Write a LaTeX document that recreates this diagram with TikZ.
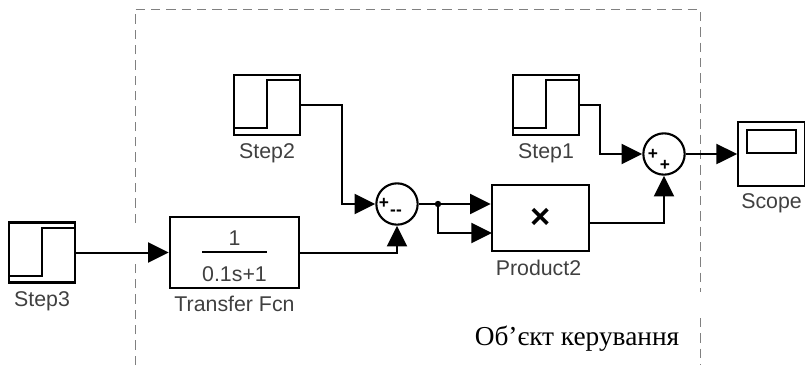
\documentclass[tikz,border=0pt]{standalone}
\usepackage{fontspec}
\setmainfont[Ligatures=ResetAll]{Liberation Serif}
\newfontfamily\blockfont{Liberation Sans}
\usetikzlibrary{positioning,arrows.meta}
\tikzset{
  block/.style={draw,line width=1.6pt,inner sep=0pt},
  stepblock/.style={block,minimum width=49pt,minimum height=45pt,
    path picture={\draw[line width=1.5pt]
      ([yshift=5pt]path picture bounding box.south west) -|
      ([yshift=-4pt]path picture bounding box.north) --
      ([yshift=-4pt]path picture bounding box.north east);}},
  sumblock/.style={draw,circle,line width=1.6pt,inner sep=0pt,minimum size=31pt},
  caption/.style={font=\blockfont\fontsize{16}{18}\selectfont,text=black!75,inner sep=0pt},
  sign/.style={font=\blockfont\bfseries\fontsize{13}{13}\selectfont,inner sep=0pt},
  wire/.style={line width=1.5pt,-{Triangle[length=15.5pt,width=15pt]}},
  frameline/.style={gray,line width=.7pt,dash pattern=on 7pt off 4.5pt}
}
\begin{document}
\begin{tikzpicture}[x=.75pt,y=-.75pt]
\useasboundingbox (0,0) rectangle (805,365);
% plant frame
\draw[frameline] (135,365) -- (135,263);
\draw[frameline] (135,223) -- (135,9) -- (700,9) -- (700,292);
\draw[frameline] (700,318) -- (700,365);
% blocks
\node[stepblock] (stepthree) at (42,252.5) {};
\node[stepblock] (steptwo) at (267,105) {};
\node[stepblock] (stepone) at (546,105) {};
\node[block,minimum width=97pt,minimum height=53pt] (transfer) at (234.5,252.5) {};
\node[sumblock] (sumone) at (397,204) {};
\node[sumblock] (sumtwo) at (664,154) {};
\node[block,minimum width=73pt,minimum height=49.5pt,font=\blockfont\bfseries\fontsize{26}{26}\selectfont] (product) at (540.5,218) {×};
\node[block,minimum width=50pt,minimum height=48pt] (scope) at (771.5,154) {};
\node[block,line width=1.4pt,minimum width=37pt,minimum height=17pt] (screen) at (771.5,141.5) {};
% captions
\node[caption,below=5.5pt of stepthree] (stepthreetext) {Step3};
\node[caption,below=5.5pt of steptwo] (steptwotext) {Step2};
\node[caption,below=5.5pt of stepone] (steponetext) {Step1};
\node[caption,below=5pt of transfer] (transfertext) {Transfer Fcn};
\node[caption,below=5.5pt of product,xshift=-1.5pt] (producttext) {Product2};
\node[caption,below=5pt of scope] (scopetext) {Scope};
\node[inner sep=0pt,font=\fontsize{20.5}{24}\selectfont] (planttext) at (577,339) {Об'єкт керування};
% transfer function
\node[caption] (tfnum) at (234.5,238) {1};
\node[caption] (tfden) at (234.5,274) {0.1s+1};
\draw[line width=1.2pt] (202,252) -- (267,252);
% signs
\node[sign] (signa) at (384,203) {+};
\node[sign] (signb) at (396,213) {--};
\node[sign] (signc) at (653,154) {+};
\node[sign] (signd) at (665,165) {+};
% connectors
\coordinate (branch) at (438,204);
\coordinate (productin) at (492,233);
\coordinate (productout) at (589,223);
\draw[wire] (stepthree) -- (transfer);
\draw[wire] (steptwo.east) -| (342,204) -- (sumone.west);
\draw[wire] (transfer.east) -| (sumone.south);
\draw[wire] (sumone.east) -- (product.west |- branch);
\draw[wire] (branch) |- (productin);
\fill (branch) circle (2.4pt);
\draw[wire] (stepone.east) -| (600,154) -- (sumtwo.west);
\draw[wire] (productout) -| (sumtwo.south);
\draw[wire] (sumtwo) -- (scope);
\end{tikzpicture}
\end{document}
